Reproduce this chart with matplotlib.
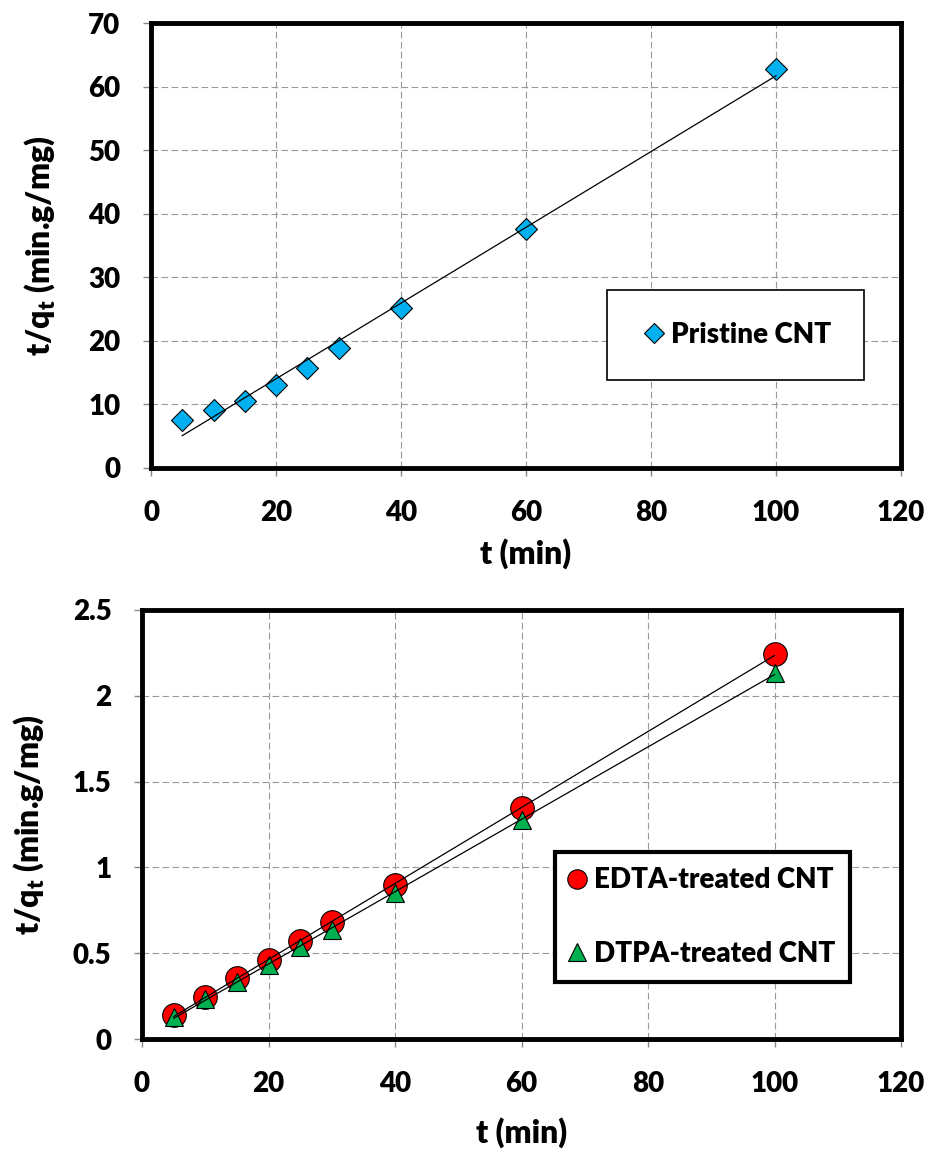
import numpy as np
import matplotlib
matplotlib.use('Agg')
import matplotlib.pyplot as plt
from matplotlib.ticker import MultipleLocator, FuncFormatter

# pseudo-second-order plots, t/qt vs t
t_min = [5, 10, 15, 20, 25, 30, 40, 60, 100]
pristine = [7.6, 9.2, 10.6, 13.0, 15.8, 18.9, 25.2, 37.6, 62.8]
edta = [0.140, 0.247, 0.354, 0.461, 0.572, 0.680, 0.898, 1.345, 2.242]
dtpa = [0.130, 0.234, 0.335, 0.434, 0.537, 0.634, 0.853, 1.277, 2.132]

plt.rcParams['font.family'] = ['Lato', 'DejaVu Sans']
plt.rcParams['font.weight'] = 'heavy'
plt.rcParams['axes.labelweight'] = 'heavy'
plt.rcParams['mathtext.default'] = 'regular'

W, H = 931, 1151


def style_axes(ax, ymax, ystep, xlab_y):
    ax.set_xlim(0, 120)
    ax.set_ylim(0, ymax)
    ax.xaxis.set_major_locator(MultipleLocator(20))
    ax.yaxis.set_major_locator(MultipleLocator(ystep))
    ax.yaxis.set_major_formatter(FuncFormatter(lambda v, p: f'{v:g}'))
    ax.grid(True, color='#9a9a9a', linestyle=(0, (6, 3)), linewidth=0.8)
    ax.set_axisbelow(True)
    for s in ax.spines.values():
        s.set_linewidth(3.5)
        s.set_color('black')
    ax.tick_params(direction='out', length=6, width=1, color='#888888', labelsize=20)
    ax.tick_params(axis='x', pad=17)
    ax.tick_params(axis='y', pad=16)
    ax.set_xlabel('t (min)', fontsize=23, fontweight='heavy')
    ax.set_ylabel('t/q$_t$ (min.g/mg)', fontsize=23, fontweight='heavy')
    ax.xaxis.label.set_va('center')
    ax.yaxis.label.set_va('center')
    ax.xaxis.set_label_coords(0.5, xlab_y)
    ax.yaxis.set_label_coords(-0.149, 0.5)


def fit_line(ax, x, y):
    coef = np.polyfit(x, y, 1)
    xs = np.array([x[0], x[-1]])
    ax.plot(xs, np.polyval(coef, xs), color='black', lw=0.9, zorder=4)


fig = plt.figure(figsize=(W / 100, H / 100), dpi=100)

# top panel: pristine CNT
ax1 = fig.add_axes([151 / W, 1 - 468 / H, 750 / W, 445 / H])
p1, = ax1.plot(t_min, pristine, ls='none', marker='D', ms=11.7,
               mfc='#00B0F0', mec='black', mew=0.8, zorder=3, label='Pristine CNT')
fit_line(ax1, t_min, pristine)
style_axes(ax1, 70, 10, -0.193)
leg1 = ax1.legend(handles=[p1], loc='upper left',
                  bbox_to_anchor=((607 - 151) / 750, (468 - 290) / 445),
                  borderaxespad=0, fontsize=20, borderpad=1.15, handlelength=1.07,
                  handletextpad=0.1, fancybox=False, framealpha=1, edgecolor='black')
leg1.get_frame().set_linewidth(1.2)
leg1.legend_handles[0].set_markersize(9.8)

# bottom panel: EDTA / DTPA treated CNT
ax2 = fig.add_axes([142 / W, 1 - 1039 / H, 759 / W, 429 / H])
p2, = ax2.plot(t_min, edta, ls='none', marker='o', ms=17,
               mfc='#FF0000', mec='black', mew=0.8, zorder=3, label='EDTA-treated CNT')
p3, = ax2.plot(t_min, dtpa, ls='none', marker='^', ms=13.5,
               mfc='#00B050', mec='black', mew=0.8, zorder=3, label='DTPA-treated CNT')
fit_line(ax2, t_min, edta)
fit_line(ax2, t_min, dtpa)
style_axes(ax2, 2.5, 0.5, -0.217)
leg2 = ax2.legend(handles=[p2, p3], loc='upper left',
                  bbox_to_anchor=((555 - 142) / 759, (1039 - 852) / 429),
                  borderaxespad=0, fontsize=20, borderpad=0.55, labelspacing=1.7,
                  handlelength=0.5, handletextpad=0.35, fancybox=False,
                  framealpha=1, edgecolor='black')
leg2.get_frame().set_linewidth(3)
leg2.legend_handles[0].set_markersize(14)
leg2.legend_handles[1].set_markersize(13.5)

fig.savefig('out.png', dpi=100)
